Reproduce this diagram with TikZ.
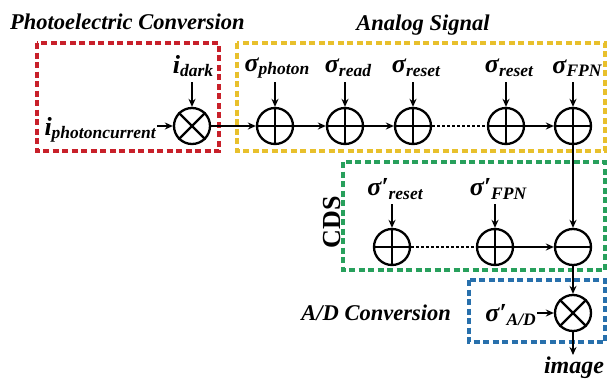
\documentclass[tikz,border=0pt]{standalone}
\usepackage{fontspec}
\setmainfont{Liberation Serif}
\usetikzlibrary{arrows.meta}
\definecolor{redbox}{RGB}{200,32,42}
\definecolor{yellowbox}{RGB}{232,192,44}
\definecolor{greenbox}{RGB}{40,160,92}
\definecolor{bluebox}{RGB}{40,112,172}
% symbol with a lowered subscript
\newcommand\sym[2]{#1\raisebox{-0.3ex}{\fontsize{17.5}{17.5}\selectfont #2}}
\tikzset{
  op/.style={circle, draw, line width=2.3pt, minimum size=36pt, inner sep=0pt},
  opmark/.style={line width=2.3pt},
  lbl/.style={font=\fontsize{26}{26}\selectfont\bfseries\itshape, inner sep=1pt},
  ttl/.style={font=\fontsize{22.5}{22.5}\selectfont\bfseries\itshape, inner sep=0pt},
  flow/.style={line width=1.6pt, -{Stealth[length=8pt,width=7pt]}},
  chain/.style={line width=1.6pt, dash pattern=on 3pt off 2pt},
  grp/.style={line width=3.2pt, dash pattern=on 6pt off 3.5pt},
}
\begin{document}
\begin{tikzpicture}[x=1pt,y=-1pt]
\useasboundingbox (0,0) rectangle (608,380);

% group frames
\draw[grp, redbox] (37,43) rectangle (219,151);
\draw[grp, yellowbox] (237,43) rectangle (605,151);
\draw[grp, greenbox] (343,162) rectangle (605,270);
\draw[grp, bluebox] (469,280) rectangle (605,342);

% group titles
\node[ttl, anchor=west] (tpc) at (10,22) {Photoelectric Conversion};
\node[ttl] (tas) at (423,25) {Analog Signal};
\node[ttl, rotate=90, font=\fontsize{26}{26}\selectfont\bfseries] (tcds) at (332,222) {CDS};
\node[ttl, anchor=east] (tad) at (451,313) {A/D Conversion};

% operators
\node[op] (m1) at (192,126) {};
\node[op] (a1) at (275,126) {};
\node[op] (a2) at (345,126) {};
\node[op] (a3) at (413,126) {};
\node[op] (a4) at (506,126) {};
\node[op] (a5) at (573,126) {};
\node[op] (c1) at (392,247) {};
\node[op] (c2) at (495,247) {};
\node[op] (s1) at (573,247) {};
\node[op] (m2) at (573,313) {};

% operator marks
\foreach \n in {a1,a2,a3,a4,a5,c1,c2}{
  \draw[opmark] (\n.north) -- (\n.south);
  \draw[opmark] (\n.west) -- (\n.east);
}
\draw[opmark] (s1.west) -- (s1.east);
\foreach \n in {m1,m2}{
  \draw[opmark] (\n.north east) -- (\n.south west);
  \draw[opmark] (\n.north west) -- (\n.south east);
}

% inputs
\node[lbl, anchor=east] (iph) at (157,130) {\sym{i}{photoncurrent}};
\node[lbl] (idk) at (193,66) {\sym{i}{dark}};
\node[lbl] (sph) at (277,68) {\sym{σ}{photon}};
\node[lbl] (srd) at (348,68) {\sym{σ}{read}};
\node[lbl] (srs) at (416,68) {\sym{σ}{reset}};
\node[lbl] (srs2) at (509,68) {\sym{σ}{reset}};
\node[lbl] (sfp) at (577,68) {\sym{σ}{FPN}};
\node[lbl] (crs) at (395,189) {\sym{σ′}{reset}};
\node[lbl] (cfp) at (498,189) {\sym{σ′}{FPN}};
\node[lbl, anchor=east] (sad) at (537,315) {\sym{σ′}{A/D}};
\node[lbl, font=\fontsize{24}{24}\selectfont\bfseries\itshape, anchor=base] (img) at (574,373) {image};

\coordinate (kdk) at (192,82);
\coordinate (ksph) at (275,82);
\coordinate (ksrd) at (345,82);
\coordinate (ksrs) at (413,82);
\coordinate (ksrs2) at (506,82);
\coordinate (ksfp) at (573,82);
\coordinate (kcrs) at (392,204);
\coordinate (kcfp) at (495,204);
\coordinate (kimg) at (573,355);

\draw[flow] (iph.east |- m1) -- (m1);
\draw[flow] (kdk) -- (m1);
\draw[flow] (ksph) -- (a1);
\draw[flow] (ksrd) -- (a2);
\draw[flow] (ksrs) -- (a3);
\draw[flow] (ksrs2) -- (a4);
\draw[flow] (ksfp) -- (a5);
\draw[flow] (kcrs) -- (c1);
\draw[flow] (kcfp) -- (c2);
\draw[flow] (sad.east |- m2) -- (m2);

% signal chain
\draw[flow] (m1) -- (a1);
\draw[flow] (a1) -- (a2);
\draw[flow] (a2) -- (a3);
\draw[chain] (a3) -- (a4);
\draw[flow] (a4) -- (a5);
\draw[flow] (a5) -- (s1);
\draw[chain] (c1) -- (c2);
\draw[flow] (c2) -- (s1);
\draw[flow] (s1) -- (m2);
\draw[flow] (m2) -- (kimg);
\end{tikzpicture}
\end{document}
